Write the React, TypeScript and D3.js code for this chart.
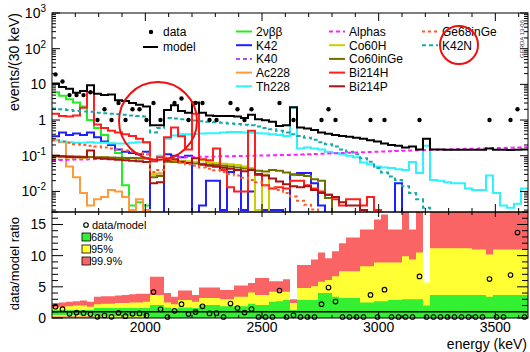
import * as d3 from "d3";

// binning of the spectrum (30 keV bins)
const BIN_START = 1600;
const BIN_WIDTH = 30;

// observed counts per bin
const dataCounts = [
  19, 12, 5, 5, 5, 6, 1, 2, 1, 3,
  1, 2, 2, 1, 3, 1, 0, 3, 4, 1,
  3, 3, 1, 1, 0, 3, 2, 1, 2, 0,
  0, 0, 3, 0, 1, 0, 0, 0, 1, 2,
  1, 0, 0, 0, 0, 1, 0, 1, 0, 0,
  0, 0, 1, 0, 0, 0, 0, 0, 0, 0,
  0, 0, 1, 0, 0, 1, 2, 0,
];

// total model
const modelTotal = [
  10.5, 8.5, 7.5, 5.8, 6.5, 9.5, 5.5, 5.0, 5.2, 3.6,
  3.4, 3.0, 2.7, 2.4, 0.72, 0.72, 1.9, 2.6, 1.8, 1.6,
  3.1, 1.6, 1.35, 1.3, 1.3, 1.3, 1.25, 1.15, 1.4, 1.05,
  0.98, 0.9, 0.68, 0.72, 2.3, 0.62, 0.58, 0.53, 0.45, 0.41,
  0.38, 0.36, 0.34, 0.32, 0.3, 0.27, 0.25, 0.22, 0.2, 0.19,
  0.17, 0.18, 0.15, 0.3, 0.15, 0.15, 0.148, 0.147, 0.147, 0.146,
  0.146, 0.146, 0.16, 0.146, 0.146, 0.145, 0.146, 0.15,
];

// model components
const twoNuBB = [
  6, 4.8, 3.8, 3.1, 2.4, 1.0, 0.6, 0.38, 0.22, 0.12,
  0.015, 0.004, 0.005, 0.004, 0, 0, 0, 0, 0, 0,
  0, 0, 0, 0, 0, 0, 0, 0, 0, 0,
  0, 0, 0, 0, 0, 0, 0, 0, 0, 0,
  0, 0, 0, 0, 0, 0, 0, 0, 0, 0,
  0, 0, 0, 0, 0, 0, 0, 0, 0, 0,
  0, 0, 0, 0, 0, 0, 0, 0,
];
const k42 = [
  0.35, 0.45, 0.38, 0.42, 0.38, 0.45, 0.33, 0.25, 0.2, 0.15,
  0.13, 0.12, 0.11, 0.13, 0, 0, 0.11, 0.1, 0.09, 0.1,
  0, 0.004, 0.02, 0.02, 0.003, 0.035, 0.04, 0.003, 0.01, 0.003,
  0.003, 0.003, 0.003, 0, 0.03, 0.033, 0.033, 0.017, 0.004, 0,
  0, 0, 0, 0, 0, 0, 0, 0, 0, 0.017,
  0, 0, 0, 0, 0, 0, 0, 0, 0, 0,
  0, 0, 0, 0, 0, 0, 0, 0,
];
const k40 = [
  0, 0, 0, 0, 0, 0, 0, 0, 0, 0,
  0, 0, 0, 0, 0, 0, 0, 0, 0, 0,
  0, 0, 0, 0, 0, 0, 0, 0, 0, 0,
  0, 0, 0, 0, 0, 0, 0, 0, 0, 0,
  0, 0, 0, 0, 0, 0, 0, 0, 0, 0,
  0, 0, 0, 0, 0, 0, 0, 0, 0, 0,
  0, 0, 0, 0, 0, 0, 0, 0,
];
const ac228 = [
  0.27, 0.24, 0.05, 0.025, 0.009, 0.004, 0.006, 0.007, 0.011, 0.01,
  0.007, 0.003, 0.006, 0.003, 0, 0, 0, 0, 0, 0,
  0, 0, 0, 0, 0, 0, 0, 0, 0, 0,
  0, 0, 0, 0, 0, 0, 0, 0, 0, 0,
  0, 0, 0, 0, 0, 0, 0, 0, 0, 0,
  0, 0, 0, 0, 0, 0, 0, 0, 0, 0,
  0, 0, 0, 0, 0, 0, 0, 0,
];
const th228 = [
  0.27, 0.25, 0.24, 0.23, 0.23, 0.24, 0.23, 0.23, 0.22, 0.22,
  0.22, 0.23, 0.24, 0.24, 0.07, 0.1, 0.3, 0.37, 0.4, 0.4,
  0.4, 0.42, 0.43, 0.43, 0.45, 0.46, 0.46, 0.45, 0.44, 0.43,
  0.42, 0.4, 0.38, 0.36, 2.2, 0.16, 0.17, 0.16, 0.15, 0.13,
  0.12, 0.11, 0.1, 0.09, 0.065, 0.058, 0.05, 0.047, 0.045, 0.042,
  0.04, 0.067, 0.033, 0.19, 0.021, 0.02, 0.018, 0.017, 0.017, 0.012,
  0.011, 0.011, 0.028, 0.009, 0.004, 0.0035, 0.0045, 0.012,
];
const alphas = [
  0.075, 0.076, 0.077, 0.078, 0.079, 0.08, 0.081, 0.082, 0.083, 0.083,
  0.084, 0.085, 0.086, 0.087, 0.03, 0.032, 0.088, 0.089, 0.09, 0.091,
  0.092, 0.093, 0.094, 0.095, 0.096, 0.097, 0.098, 0.099, 0.1, 0.101,
  0.102, 0.103, 0.104, 0.105, 0.106, 0.108, 0.11, 0.112, 0.114, 0.116,
  0.118, 0.12, 0.122, 0.124, 0.126, 0.128, 0.13, 0.132, 0.134, 0.136,
  0.138, 0.14, 0.142, 0.144, 0.146, 0.148, 0.15, 0.152, 0.154, 0.156,
  0.158, 0.16, 0.162, 0.164, 0.166, 0.168, 0.17, 0.172,
];
const co60H = [
  0.09, 0.09, 0.089, 0.09, 0.088, 0.09, 0.087, 0.088, 0.086, 0.087,
  0.085, 0.086, 0.084, 0.083, 0.03, 0.032, 0.075, 0.073, 0.072, 0.07,
  0.068, 0.075, 0.066, 0.063, 0.06, 0.058, 0.055, 0.05, 0.045, 0.003,
  0.03, 0, 0, 0, 0, 0, 0, 0, 0, 0,
  0, 0, 0, 0, 0, 0, 0, 0, 0, 0,
  0, 0, 0, 0, 0, 0, 0, 0, 0, 0,
  0, 0, 0, 0, 0, 0, 0, 0,
];
const co60InGe = [
  0.1, 0.098, 0.096, 0.095, 0.093, 0.092, 0.091, 0.09, 0.089, 0.088,
  0.087, 0.086, 0.085, 0.084, 0.025, 0.027, 0.068, 0.067, 0.065, 0.063,
  0.061, 0.06, 0.057, 0.055, 0.052, 0.05, 0.047, 0.044, 0.041, 0.038,
  0.036, 0.04, 0.038, 0.034, 0.03, 0.029, 0.027, 0.022, 0.02, 0.0065,
  0, 0, 0, 0, 0, 0, 0, 0, 0, 0,
  0, 0, 0, 0, 0, 0, 0, 0, 0, 0,
  0, 0, 0, 0, 0, 0, 0, 0,
];
const bi214H = [
  1.5, 1.3, 1.25, 1.35, 2.2, 6.0, 0.75, 0.6, 0.5, 0.45,
  0.4, 0.36, 0.3, 0.24, 0.07, 0.09, 0.33, 0.62, 0.35, 0.15,
  1.5, 0.08, 0.075, 0.16, 0.04, 0.013, 0.01, 0.01, 0.5, 0.029,
  0.015, 0.012, 0.013, 0.012, 0.02, 0.02, 0.015, 0.012, 0.01, 0.008,
  0.006, 0.004, 0.006, 0.006, 0.004, 0.007, 0.003, 0, 0, 0,
  0, 0, 0, 0, 0, 0, 0, 0, 0, 0,
  0, 0, 0, 0, 0, 0, 0, 0,
];
const bi214P = [
  0.1, 0.095, 0.092, 0.09, 0.09, 0.14, 0.085, 0.082, 0.08, 0.077,
  0.075, 0.072, 0.07, 0.067, 0.017, 0.018, 0.075, 0.08, 0.068, 0.063,
  0.085, 0.056, 0.052, 0.049, 0.046, 0.043, 0.04, 0.037, 0.04, 0.031,
  0.028, 0.023, 0.019, 0.016, 0.014, 0.013, 0.014, 0.011, 0.009, 0.008,
  0.007, 0.005, 0.004, 0.004, 0.003, 0, 0, 0, 0, 0,
  0, 0, 0, 0, 0, 0, 0, 0, 0, 0,
  0, 0, 0, 0, 0, 0, 0, 0,
];
const ge68InGe = [
  0.27, 0.25, 0.23, 0.21, 0.2, 0.19, 0.18, 0.17, 0.16, 0.15,
  0.14, 0.13, 0.12, 0.11, 0.035, 0.04, 0.08, 0.072, 0.065, 0.058,
  0.052, 0.047, 0.043, 0.039, 0.035, 0.031, 0.028, 0.024, 0.021, 0.018,
  0.015, 0.013, 0.011, 0.009, 0.0072, 0.0055, 0.0042, 0.0031, 0, 0,
  0, 0, 0, 0, 0, 0, 0, 0, 0, 0,
  0, 0, 0, 0, 0, 0, 0, 0, 0, 0,
  0, 0, 0, 0, 0, 0, 0, 0,
];
const k42N = [
  2.1, 2.0, 1.9, 1.8, 1.75, 1.7, 1.6, 1.55, 1.5, 1.45,
  1.4, 1.35, 1.3, 1.25, 0.45, 0.6, 1.15, 1.1, 1.05, 1.0,
  0.97, 0.93, 0.9, 0.87, 0.84, 0.8, 0.77, 0.74, 0.71, 0.66,
  0.6, 0.55, 0.5, 0.45, 0.4, 0.36, 0.32, 0.28, 0.24, 0.21,
  0.18, 0.15, 0.13, 0.11, 0.085, 0.068, 0.045, 0.034, 0.026, 0.021,
  0.014, 0.009, 0.006, 0.0035, 0, 0, 0, 0, 0, 0,
  0, 0, 0, 0, 0, 0, 0, 0,
];

// data/model ratio bands (upper / lower edges)
const band999Hi = [
  2.4, 2.5, 2.6, 2.7, 2.8, 2.6, 3.4, 3.5, 3.5, 3.6,
  3.7, 3.8, 3.9, 3.9, 6.6, 6.6, 4.0, 3.4, 4.4, 4.4,
  3.7, 4.9, 4.9, 4.9, 4.5, 4.5, 5.2, 5.2, 5.6, 6.4,
  6.4, 5.9, 5.9, 6.2, 3.0, 8.5, 8.5, 9.4, 10.5, 9.6,
  10.7, 12.0, 12.9, 12.9, 14.2, 14.2, 15.8, 16.6, 14.2, 14.2,
  18, 14.2, 18, 5.6, 18, 18, 18, 18, 18, 18,
  18, 18, 18, 18, 18, 18, 18, 18,
];
const band95Hi = [
  1.7, 1.8, 1.9, 2.0, 2.0, 1.8, 2.2, 2.3, 2.3, 2.4,
  2.4, 2.5, 2.5, 2.6, 3.7, 3.7, 2.5, 2.2, 2.9, 2.9,
  2.6, 3.2, 3.2, 3.2, 3.0, 3.0, 3.4, 3.4, 4.1, 3.7,
  3.7, 4.2, 4.2, 4.2, 2.4, 4.8, 4.8, 5.1, 5.8, 6.1,
  6.7, 7.5, 7.5, 7.5, 8.3, 8.3, 8.9, 8.9, 8.9, 8.9,
  9.9, 9.4, 10.5, 5.7, 11.2, 11.2, 11.2, 11.2, 11.2, 11.2,
  11.0, 11.0, 10.2, 11.0, 11.0, 11.0, 11.0, 11.0,
];
const band68Hi = [
  1.3, 1.3, 1.3, 1.3, 1.3, 1.3, 1.6, 1.6, 1.6, 1.6,
  1.6, 1.6, 1.6, 1.6, 2.1, 2.1, 1.7, 1.5, 1.7, 1.7,
  1.6, 2.1, 2.1, 2.1, 1.9, 1.9, 1.9, 1.9, 2.3, 2.1,
  2.1, 2.6, 2.7, 2.9, 1.3, 2.9, 2.9, 2.9, 4.0, 4.0,
  3.4, 3.2, 3.2, 3.2, 2.5, 2.5, 2.7, 2.7, 2.9, 2.9,
  3.0, 3.0, 3.0, 2.0, 3.7, 3.7, 3.7, 3.7, 3.7, 3.7,
  3.7, 3.7, 3.4, 3.7, 3.7, 3.7, 3.7, 3.7,
];
const band95Lo = [
  0.25, 0.25, 0.25, 0.25, 0.25, 0.25, 0.1, 0.1, 0.1, 0.1,
  0.1, 0.1, 0.1, 0.1, 0, 0, 0, 0, 0, 0,
  0, 0, 0, 0, 0, 0, 0, 0, 0, 0,
  0, 0, 0, 0, 0, 0, 0, 0, 0, 0,
  0, 0, 0, 0, 0, 0, 0, 0, 0, 0,
  0, 0, 0, 0, 0, 0, 0, 0, 0, 0,
  0, 0, 0, 0, 0, 0, 0, 0,
];
const band68Lo = [
  0.5, 0.5, 0.5, 0.5, 0.5, 0.5, 0.3, 0.3, 0.3, 0.3,
  0.3, 0.3, 0.3, 0.3, 0, 0, 0, 0, 0, 0,
  0, 0, 0, 0, 0, 0, 0, 0, 0, 0,
  0, 0, 0, 0, 0, 0, 0, 0, 0, 0,
  0, 0, 0, 0, 0, 0, 0, 0, 0, 0,
  0, 0, 0, 0, 0, 0, 0, 0, 0, 0,
  0, 0, 0, 0, 0, 0, 0, 0,
];

const xTickLabels = [2000, 2500, 3000, 3500];
const logTickExps = [-2, -1, 0, 1, 2, 3];
const ratioTickLabels = [0, 5, 10, 15];
const bandLabels = ["68%", "95%", "99.9%"];

const FONT = "'Liberation Sans', Arial, Helvetica, sans-serif";

const series = [
  { name: "2\u03bd\u03b2\u03b2", values: twoNuBB, color: "#22ee22", dash: "" },
  { name: "K42", values: k42, color: "#1f1fff", dash: "" },
  { name: "K40", values: k40, color: "#a64dff", dash: "4 3" },
  { name: "Ac228", values: ac228, color: "#ff9a3c", dash: "" },
  { name: "Th228", values: th228, color: "#2ef2ff", dash: "" },
  { name: "Alphas", values: alphas, color: "#ff22ff", dash: "4 3" },
  { name: "Co60H", values: co60H, color: "#cccc00", dash: "" },
  { name: "Co60inGe", values: co60InGe, color: "#6f6f00", dash: "" },
  { name: "Bi214H", values: bi214H, color: "#ff1f1f", dash: "" },
  { name: "Bi214P", values: bi214P, color: "#a81414", dash: "" },
  { name: "Ge68inGe", values: ge68InGe, color: "#ff5a2a", dash: "3 3" },
  { name: "K42N", values: k42N, color: "#16aaaa", dash: "4 3" },
];

const BAND_COLORS = ["#33f033", "#ffff33", "#fa6464"];

export default function App() {
  const W = 530;
  const H = 352;
  const L = 52;
  const R = 528;
  const T1 = 13;
  const B1 = 212;
  const B2 = 318;
  const nBins = dataCounts.length;
  const edges = d3.range(nBins + 1).map((i) => BIN_START + i * BIN_WIDTH);
  const centers = d3.range(nBins).map((i) => BIN_START + (i + 0.5) * BIN_WIDTH);

  const x = d3.scaleLinear().domain([edges[0], edges[nBins]]).range([L, R]);
  const yMin = Math.pow(10, -2.577);
  const y = d3.scaleLog().domain([yMin, 1000]).range([B1, T1]);
  const yr = d3.scaleLinear().domain([0, 17]).range([B2, B1]);

  const stepLine = d3
    .line<[number, number]>()
    .x((d) => x(d[0]))
    .y((d) => y(Math.max(d[1], yMin / 10)))
    .curve(d3.curveStepAfter);
  const histPath = (vals: number[]) =>
    stepLine([
      ...vals.map((v, i) => [edges[i], v] as [number, number]),
      [edges[nBins], vals[nBins - 1]],
    ]) || "";

  const bandArea = d3
    .area<[number, number, number]>()
    .x((d) => x(d[0]))
    .y0((d) => yr(d[1]))
    .y1((d) => yr(Math.min(d[2], 17.5)))
    .curve(d3.curveStepAfter);
  const bandPath = (lo: number[], hi: number[]) =>
    bandArea([
      ...hi.map((h, i) => [edges[i], lo[i], h] as [number, number, number]),
      [edges[nBins], lo[nBins - 1], hi[nBins - 1]],
    ]) || "";
  const zeros = dataCounts.map(() => 0);

  const ratio = dataCounts.map((d, i) => d / modelTotal[i]);

  // ticks
  const xMinor = d3.range(1700, 3700, 100).filter((v) => v < edges[nBins]);
  const logTicks: { v: number; major: boolean }[] = [];
  for (let e = -3; e <= 2; e++) {
    for (let m = 1; m <= 9; m++) {
      const v = m * Math.pow(10, e);
      if (v >= yMin && v <= 1000) logTicks.push({ v, major: m === 1 });
    }
  }
  logTicks.push({ v: 1000, major: true });
  const ratioTicks = d3.range(0, 18);

  const logLabel = (e: number) => {
    if (e === 0) return <tspan>1</tspan>;
    if (e === 1) return <tspan>10</tspan>;
    return (
      <>
        <tspan>10</tspan>
        <tspan fontSize={10} dy={-6}>
          {String(e)}
        </tspan>
      </>
    );
  };

  const legendRows = [31.5, 45.2, 58.9, 72.6, 86.3];
  const legendCols = [
    { x1: 236, x2: 252, tx: 256 },
    { x1: 329, x2: 345, tx: 349 },
    { x1: 422, x2: 438, tx: 442 },
  ];
  const ratioLegendRows = [237, 249, 261];

  return (
    <svg
      width={W}
      height={H}
      viewBox={`0 0 ${W} ${H}`}
      style={{ position: "absolute", left: 0, top: 0, background: "#fff", fontFamily: FONT }}
    >
      <defs>
        <clipPath id="clipTop">
          <rect x={L} y={T1} width={R - L} height={B1 - T1} />
        </clipPath>
        <clipPath id="clipBottom">
          <rect x={L} y={B1} width={R - L} height={B2 - B1} />
        </clipPath>
      </defs>
      <rect x={0} y={0} width={W} height={H} fill="#fff" />

      {/* upper panel: spectrum */}
      <g clipPath="url(#clipTop)">
        {series.map((s) => (
          <path
            key={s.name}
            d={histPath(s.values)}
            fill="none"
            stroke={s.color}
            strokeWidth={2}
            strokeDasharray={s.dash || undefined}
          />
        ))}
        <path d={histPath(modelTotal)} fill="none" stroke="#000" strokeWidth={2} />
      </g>
      {dataCounts.map((c, i) =>
        c > 0 ? <circle key={i} cx={x(centers[i])} cy={y(c)} r={2.2} fill="#000" /> : null
      )}

      {/* lower panel: ratio */}
      <g clipPath="url(#clipBottom)">
        <path d={bandPath(zeros, band999Hi)} fill={BAND_COLORS[2]} />
        <path d={bandPath(band95Lo, band95Hi)} fill={BAND_COLORS[1]} />
        <path d={bandPath(band68Lo, band68Hi)} fill={BAND_COLORS[0]} />
      </g>
      <line x1={L} x2={R} y1={yr(1)} y2={yr(1)} stroke="#000" strokeWidth={1.5} />
      {ratio.map((r, i) => (
        <circle
          key={i}
          cx={x(centers[i])}
          cy={Math.min(yr(r), B2 - 1)}
          r={2.3}
          fill="none"
          stroke="#000"
          strokeWidth={1.1}
        />
      ))}

      {/* frames */}
      <rect x={L} y={T1} width={R - L} height={B1 - T1} fill="none" stroke="#000" strokeWidth={1} />
      <rect x={L} y={B1} width={R - L} height={B2 - B1} fill="none" stroke="#000" strokeWidth={1} />

      {/* x ticks */}
      {xMinor.map((v) => {
        const major = v % 500 === 0;
        const px = x(v);
        return (
          <g key={v} stroke="#000" strokeWidth={1}>
            <line x1={px} x2={px} y1={T1} y2={T1 + (major ? 8 : 4)} />
            <line x1={px} x2={px} y1={B1} y2={B1 - (major ? 8 : 4)} />
            <line x1={px} x2={px} y1={B1} y2={B1 + (major ? 5 : 3)} />
            <line x1={px} x2={px} y1={B2} y2={B2 - (major ? 6 : 3)} />
          </g>
        );
      })}
      {/* log y ticks */}
      {logTicks.map((t, i) => {
        const py = y(t.v);
        const len = t.major ? 8 : 4;
        return (
          <g key={i} stroke="#000" strokeWidth={1}>
            <line x1={L} x2={L + len} y1={py} y2={py} />
            <line x1={R} x2={R - len} y1={py} y2={py} />
          </g>
        );
      })}
      {/* ratio y ticks */}
      {ratioTicks.map((v) => {
        const py = yr(v);
        const len = v % 5 === 0 ? 11 : 6;
        return (
          <g key={v} stroke="#000" strokeWidth={1}>
            <line x1={L} x2={L + len} y1={py} y2={py} />
            <line x1={R} x2={R - len} y1={py} y2={py} />
          </g>
        );
      })}

      {/* tick labels */}
      {logTickExps.map((e) => (
        <text key={e} x={46} y={y(Math.pow(10, e)) + 5} fontSize={14} textAnchor="end" fill="#000">
          {logLabel(e)}
        </text>
      ))}
      {ratioTickLabels.map((v) => (
        <text key={v} x={46} y={yr(v) + 5} fontSize={14} textAnchor="end" fill="#000">
          {v}
        </text>
      ))}
      {xTickLabels.map((v) => (
        <text key={v} x={x(v)} y={332} fontSize={14} textAnchor="middle" fill="#000">
          {v}
        </text>
      ))}

      {/* axis titles */}
      <text transform={`translate(19,${T1}) rotate(-90)`} fontSize={14} textAnchor="end" fill="#000">
        events/(30 keV)
      </text>
      <text transform={`translate(19,217) rotate(-90)`} fontSize={13} textAnchor="end" fill="#000">
        data/model ratio
      </text>
      <text x={527} y={349} fontSize={14} textAnchor="end" fill="#000">
        energy (keV)
      </text>

      {/* legend: data / model */}
      <circle cx={151} cy={32} r={2.2} fill="#000" />
      <text x={163} y={36.3} fontSize={12} fill="#000">
        data
      </text>
      <line x1={143} x2={158} y1={47} y2={47} stroke="#000" strokeWidth={2} />
      <text x={163} y={51.3} fontSize={12} fill="#000">
        model
      </text>

      {/* legend: components */}
      {series.map((s, i) => {
        const col = legendCols[Math.floor(i / 5)];
        const ry = legendRows[i % 5];
        return (
          <g key={s.name}>
            <line
              x1={col.x1}
              x2={col.x2}
              y1={ry}
              y2={ry}
              stroke={s.color}
              strokeWidth={2}
              strokeDasharray={s.dash || undefined}
            />
            <text x={col.tx} y={ry + 4.3} fontSize={12} fill="#000">
              {s.name}
            </text>
          </g>
        );
      })}

      {/* legend: ratio panel */}
      <circle cx={86} cy={225} r={2.3} fill="none" stroke="#000" strokeWidth={1.1} />
      <text x={92} y={229} fontSize={11} fill="#000">
        data/model
      </text>
      {bandLabels.map((label, i) => (
        <g key={label}>
          <rect
            x={82}
            y={ratioLegendRows[i] - 4}
            width={8.5}
            height={8}
            fill={BAND_COLORS[i]}
            stroke="#000"
            strokeWidth={0.8}
          />
          <text x={91} y={ratioLegendRows[i] + 4} fontSize={11} fill="#000">
            {label}
          </text>
        </g>
      ))}

      {/* annotations */}
      <circle cx={158} cy={121} r={39} fill="none" stroke="#f01010" strokeWidth={2} />
      <circle cx={459} cy={45} r={19} fill="none" stroke="#f01010" strokeWidth={2} />
      <text
        transform="translate(524,39) rotate(-90)"
        fontSize={6}
        textAnchor="middle"
        fill="#333"
      >
        GERDA 13-06
      </text>
    </svg>
  );
}
